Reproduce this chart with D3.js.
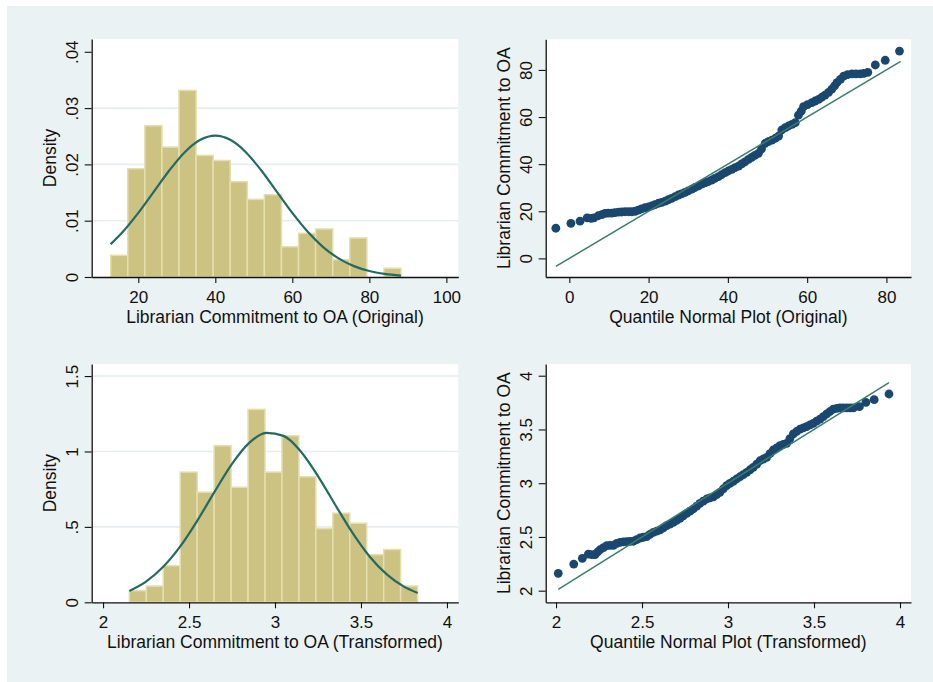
<!DOCTYPE html>
<html>
<head>
<meta charset="utf-8">
<script src="https://cdn.jsdelivr.net/npm/d3@7"></script>
<style>
  html, body { margin: 0; padding: 0; background: #ffffff; }
  svg { display: block; }
  text { font-family: "Liberation Sans", Arial, sans-serif; fill: #111; }
</style>
</head>
<body>
<div id="chart"></div>
<script>
// Histogram (original scale): first bin start, bin width, densities
const origBinStart = 12.83;
const origBinWidth = 4.435;
const origDensity = [0.00385, 0.01923, 0.02686, 0.02308, 0.03314, 0.0216, 0.0207, 0.01692,
  0.01379, 0.01462, 0.00538, 0.00776, 0.00853, 0.00308, 0.00693, 0, 0.00155];
// Normal overlay (x, density)
const origCurveX = [12.8, 16, 20, 24, 28, 32, 36, 40, 44, 48, 52, 56, 60, 64, 68, 72, 76, 80, 84, 88.2];
const origCurveY = [0.00581, 0.00803, 0.01138, 0.01513, 0.01887, 0.02212, 0.02432, 0.0251, 0.02432,
  0.02212, 0.01887, 0.01513, 0.01138, 0.00803, 0.00532, 0.00331, 0.00193, 0.00106, 0.00055, 0.00025];

// Histogram (transformed scale)
const transBinStart = 2.153;
const transBinWidth = 0.0986;
const transDensity = [0.0774, 0.108, 0.243, 0.863, 0.730, 1.038, 0.763, 1.279, 0.863, 1.104,
  0.832, 0.489, 0.591, 0.524, 0.316, 0.350, 0.108];
const transCurveX = [2.153, 2.25, 2.35, 2.45, 2.55, 2.65, 2.75, 2.85, 2.95, 3.05, 3.15, 3.25,
  3.35, 3.45, 3.55, 3.65, 3.75, 3.83];
const transCurveY = [0.0751, 0.1368, 0.235, 0.372, 0.545, 0.7356, 0.9176, 1.0567, 1.1237, 1.1033,
  1.0002, 0.8372, 0.6469, 0.4616, 0.3041, 0.1849, 0.1038, 0.0618];

// Quantile-normal plot (original): normal quantile, observed value
const qOrigX = [-3.4, 0.4, 2.7, 4.5, 5.5, 6.2, 7.3, 8.2, 9.0, 9.8, 10.7, 11.5, 12.4, 13.2, 14.1, 15.0,
  15.8, 16.6, 17.4, 18.2, 19.1, 20.0, 20.8, 21.6, 22.5, 23.3, 24.2, 25.0, 25.8, 26.7, 27.5, 28.3,
  29.2, 30.0, 30.9, 31.7, 32.6, 33.4, 34.2, 35.0, 35.9, 36.7, 37.6, 38.4, 39.3, 40.1, 41.0, 41.8,
  42.7, 43.5, 44.3, 45.2, 46.0, 46.8, 47.7, 48.5, 49.4, 50.2, 51.1, 52.0, 52.8, 53.6, 54.5, 55.3,
  56.2, 57.0, 57.8, 58.5, 59.1, 60.1, 61.2, 62.0, 62.9, 63.7, 64.5, 65.4, 66.2, 66.9, 67.5, 68.4,
  69.2, 70.2, 71.3, 72.3, 73.4, 74.3, 75.3, 77.2, 79.7, 83.3];
const qOrigY = [12.8, 14.9, 15.8, 17.2, 17.0, 17.2, 18.1, 18.6, 19.1, 19.2, 19.2, 19.4, 19.6, 19.7,
  19.8, 19.8, 19.8, 20.0, 20.5, 21.0, 21.5, 21.9, 22.3, 22.8, 23.4, 23.8, 24.3, 24.9, 25.5, 26.2,
  26.9, 27.4, 28.0, 28.7, 29.4, 30.1, 30.8, 31.5, 32.1, 32.6, 33.2, 34.0, 34.7, 35.5, 36.4, 37.1,
  37.8, 38.5, 39.2, 40.1, 41.0, 42.0, 42.9, 43.7, 44.6, 46.5, 48.8, 49.6, 50.2, 51.0, 51.9, 54.5,
  55.5, 56.2, 56.9, 57.6, 60.8, 62.5, 64.4, 65.3, 66.1, 66.8, 67.5, 68.4, 69.3, 70.5, 71.8, 73.2,
  74.6, 76.0, 77.4, 78.0, 78.3, 78.3, 78.3, 78.5, 79.0, 82.1, 84.1, 88.0];

// Quantile-normal plot (transformed)
const qTransX = [2.013, 2.103, 2.153, 2.188, 2.208, 2.227, 2.242, 2.256, 2.276, 2.295, 2.315, 2.334,
  2.353, 2.372, 2.392, 2.411, 2.43, 2.45, 2.469, 2.488, 2.507, 2.527, 2.546, 2.566, 2.585, 2.605,
  2.624, 2.643, 2.662, 2.682, 2.701, 2.721, 2.74, 2.76, 2.779, 2.798, 2.818, 2.837, 2.856, 2.876,
  2.895, 2.915, 2.934, 2.953, 2.972, 2.992, 3.011, 3.031, 3.05, 3.07, 3.089, 3.109, 3.128, 3.147,
  3.167, 3.186, 3.205, 3.225, 3.244, 3.263, 3.283, 3.302, 3.321, 3.341, 3.36, 3.38, 3.399, 3.419,
  3.438, 3.457, 3.477, 3.496, 3.515, 3.535, 3.554, 3.574, 3.593, 3.612, 3.632, 3.651, 3.67, 3.69,
  3.71, 3.729, 3.764, 3.802, 3.85, 3.936];
const qTransY = [2.162, 2.248, 2.301, 2.341, 2.336, 2.335, 2.36, 2.381, 2.40, 2.419, 2.421, 2.421,
  2.44, 2.45, 2.454, 2.456, 2.458, 2.46, 2.475, 2.49, 2.497, 2.503, 2.523, 2.543, 2.554, 2.565,
  2.585, 2.605, 2.62, 2.636, 2.655, 2.673, 2.697, 2.72, 2.74, 2.76, 2.787, 2.813, 2.833, 2.853,
  2.863, 2.873, 2.894, 2.915, 2.946, 2.977, 2.998, 3.018, 3.039, 3.06, 3.08, 3.101, 3.125, 3.148,
  3.178, 3.209, 3.225, 3.241, 3.275, 3.309, 3.329, 3.349, 3.36, 3.371, 3.415, 3.458, 3.481, 3.504,
  3.515, 3.526, 3.542, 3.557, 3.577, 3.597, 3.62, 3.644, 3.667, 3.69, 3.697, 3.70, 3.70, 3.70,
  3.70, 3.70, 3.712, 3.752, 3.777, 3.83];

// Reference lines (y = x between the extreme quantiles)
const refOrig = [-3.4, 83.6];
const refTrans = [2.013, 3.936];

// Tick values
const origHistXTicks = [20, 40, 60, 80, 100];
const origHistYTicks = [0, 0.01, 0.02, 0.03, 0.04];
const origQXTicks = [0, 20, 40, 60, 80];
const origQYTicks = [0, 20, 40, 60, 80];
const transXTicks = [2, 2.5, 3, 3.5, 4];
const transHistYTicks = [0, 0.5, 1, 1.5];
const transQYTicks = [2, 2.5, 3, 3.5, 4];

const width = 933, height = 682;
const barFill = "#ccc382", barEdge = "#e4dfae";
const curveColor = "#236a62", refColor = "#3a7e67", dotColor = "#1a476f";
const gridColor = "#e6eef0";

const svg = d3.select("#chart").append("svg")
  .attr("width", width).attr("height", height);

svg.append("rect")
  .attr("x", 7).attr("y", 6)
  .attr("width", width - 7).attr("height", height - 6)
  .attr("fill", "#eaf2f3");

// Stata-style number labels: ".04" instead of "0.04"
const stataFmt = v => v === 0 ? "0" : String(+v.toFixed(4)).replace(/^0\./, ".");

function panel(opt) {
  const x = d3.scaleLinear().domain(opt.xDomain).range([opt.left, opt.right]);
  const y = d3.scaleLinear().domain(opt.yDomain).range([opt.bottom, opt.top]);
  const g = svg.append("g");

  g.append("rect")
    .attr("x", opt.left).attr("y", opt.top)
    .attr("width", opt.right - opt.left).attr("height", opt.bottom - opt.top)
    .attr("fill", "#ffffff");

  if (opt.grid) {
    g.selectAll(".grid").data(opt.grid).enter().append("line")
      .attr("x1", opt.left).attr("x2", opt.right)
      .attr("y1", d => y(d)).attr("y2", d => y(d))
      .attr("stroke", gridColor).attr("stroke-width", 1.6);
  }

  opt.draw(g, x, y);

  // x axis
  const xa = g.append("g")
    .attr("transform", `translate(0,${opt.bottom})`)
    .call(d3.axisBottom(x).tickValues(opt.xTicks).tickFormat(stataFmt).tickSize(6).tickSizeOuter(0));
  xa.selectAll("text")
    .attr("y", 26).attr("dy", null)
    .style("font-size", "17px");

  // y axis, labels rotated like Stata
  const ya = g.append("g")
    .attr("transform", `translate(${opt.left},0)`)
    .call(d3.axisLeft(y).tickValues(opt.yTicks).tickFormat(stataFmt).tickSize(7).tickSizeOuter(0));
  ya.selectAll("text")
    .attr("x", null).attr("dy", null)
    .attr("transform", "translate(-14,0) rotate(-90)")
    .attr("text-anchor", "middle")
    .style("font-size", "17px");

  [xa, ya].forEach(a => {
    a.select(".domain").attr("stroke", "#111").attr("stroke-width", 1.3);
    a.selectAll(".tick line").attr("stroke", "#111").attr("stroke-width", 1.1);
    a.selectAll("text").attr("fill", "#111").style("font-family", "'Liberation Sans', Arial, sans-serif");
  });

  g.append("text")
    .attr("x", (opt.left + opt.right) / 2)
    .attr("y", opt.bottom + 46)
    .attr("text-anchor", "middle")
    .style("font-size", "17.5px")
    .text(opt.xTitle);

  g.append("text")
    .attr("transform", `translate(${opt.left - 36},${(opt.top + opt.bottom) / 2}) rotate(-90)`)
    .attr("text-anchor", "middle")
    .style("font-size", "17.5px")
    .text(opt.yTitle);
}

function histogram(start, binW, dens, cx, cy) {
  return (g, x, y) => {
    g.selectAll(".bar").data(dens).enter().append("rect")
      .attr("x", (d, i) => x(start + i * binW))
      .attr("width", (d, i) => x(start + (i + 1) * binW) - x(start + i * binW))
      .attr("y", d => y(d))
      .attr("height", d => y(0) - y(d))
      .attr("fill", barFill)
      .attr("stroke", d => d > 0 ? barEdge : "none")
      .attr("stroke-width", 1.5);

    const line = d3.line()
      .x((d, i) => x(cx[i]))
      .y(d => y(d))
      .curve(d3.curveMonotoneX);

    g.append("path")
      .attr("d", line(cy))
      .attr("fill", "none")
      .attr("stroke", curveColor)
      .attr("stroke-width", 2.2);
  };
}

function qqplot(qx, qy, ref) {
  return (g, x, y) => {
    g.selectAll(".dot").data(qy).enter().append("circle")
      .attr("cx", (d, i) => x(qx[i]))
      .attr("cy", d => y(d))
      .attr("r", 4.4)
      .attr("fill", dotColor);

    g.append("line")
      .attr("x1", x(ref[0])).attr("y1", y(ref[0]))
      .attr("x2", x(ref[1])).attr("y2", y(ref[1]))
      .attr("stroke", refColor)
      .attr("stroke-width", 1.5);
  };
}

// Top left: histogram, original
panel({
  left: 91.7, right: 458.3, top: 39, bottom: 277,
  xDomain: [7.9, 103.1], yDomain: [0, 0.04227],
  xTicks: origHistXTicks, yTicks: origHistYTicks,
  grid: [0.01, 0.02, 0.03],
  xTitle: "Librarian Commitment to OA (Original)", yTitle: "Density",
  draw: histogram(origBinStart, origBinWidth, origDensity, origCurveX, origCurveY)
});

// Top right: quantile normal, original
panel({
  left: 545.7, right: 911, top: 39.3, bottom: 277,
  xDomain: [-5.96, 86.2], yDomain: [-7.9, 93.0],
  xTicks: origQXTicks, yTicks: origQYTicks,
  xTitle: "Quantile Normal Plot (Original)", yTitle: "Librarian Commitment to OA",
  draw: qqplot(qOrigX, qOrigY, refOrig)
});

// Bottom left: histogram, transformed
panel({
  left: 91.7, right: 458.3, top: 364, bottom: 602.3,
  xDomain: [1.934, 4.066], yDomain: [0, 1.58],
  xTicks: transXTicks, yTicks: transHistYTicks,
  grid: [0.5, 1, 1.5],
  xTitle: "Librarian Commitment to OA (Transformed)", yTitle: "Density",
  draw: histogram(transBinStart, transBinWidth, transDensity, transCurveX, transCurveY)
});

// Bottom right: quantile normal, transformed
panel({
  left: 545.7, right: 911, top: 364, bottom: 602.3,
  xDomain: [1.94, 4.064], yDomain: [1.892, 4.109],
  xTicks: transXTicks, yTicks: transQYTicks,
  xTitle: "Quantile Normal Plot (Transformed)", yTitle: "Librarian Commitment to OA",
  draw: qqplot(qTransX, qTransY, refTrans)
});
</script>
</body>
</html>
